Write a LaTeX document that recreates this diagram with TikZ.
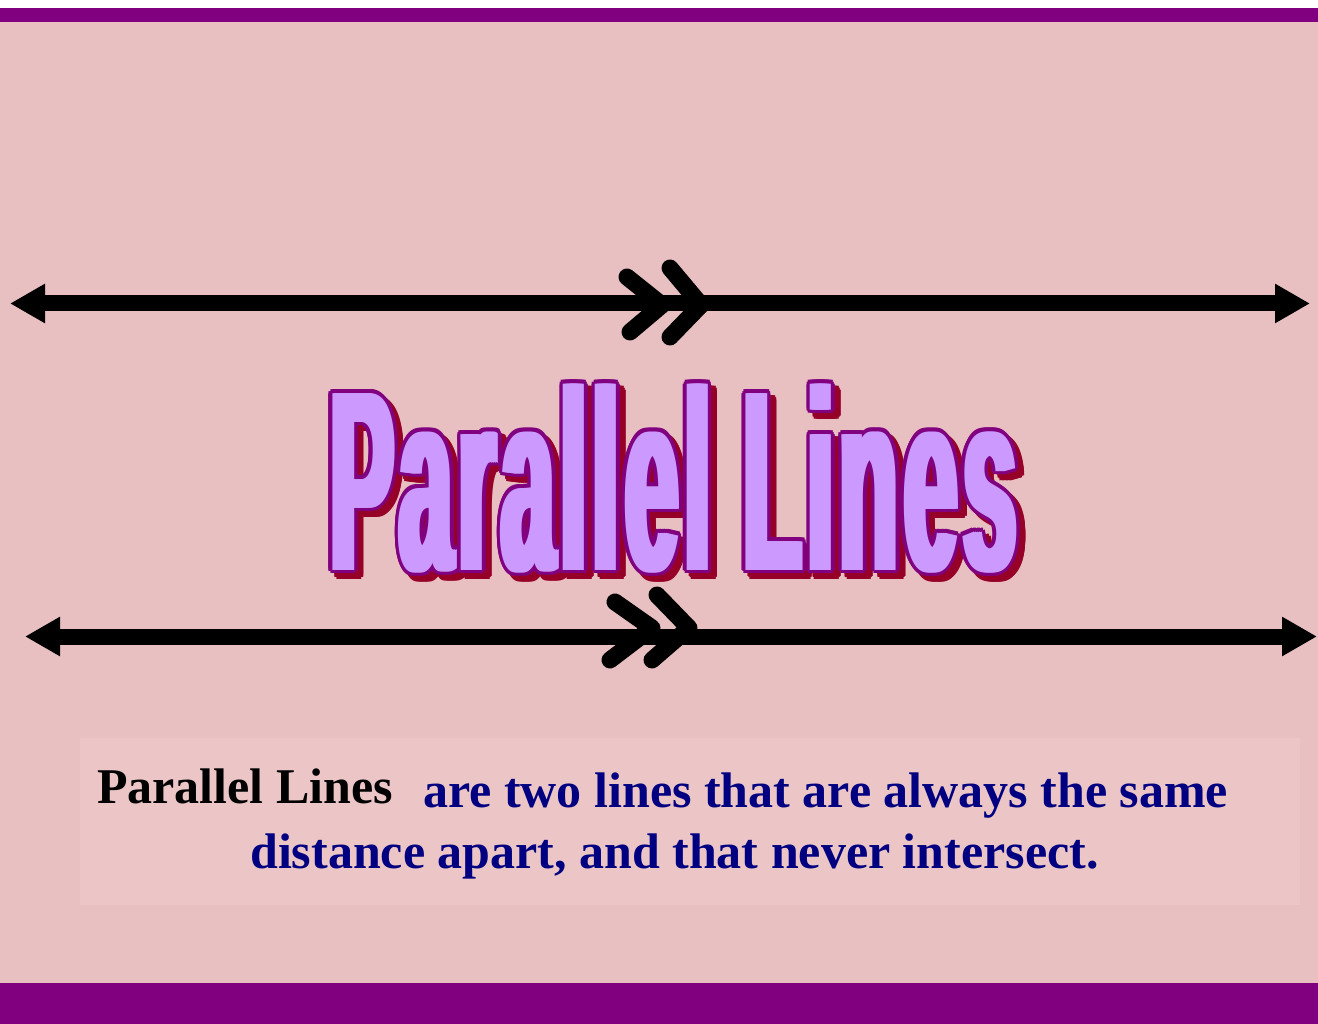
\documentclass[tikz,border=0pt]{standalone}
\usepackage{fontspec}
\setmainfont{Liberation Serif}
\newfontfamily\titlefont[LetterSpace=6]{Liberation Sans}
\usetikzlibrary{arrows.meta,calc}
\definecolor{bgpink}{RGB}{233,192,193}
\definecolor{panelpink}{RGB}{236,197,198}
\definecolor{barpurple}{RGB}{128,0,128}
\definecolor{lilac}{RGB}{204,153,255}
\definecolor{shadowred}{RGB}{150,0,40}
\definecolor{navytext}{RGB}{0,0,128}
\newcommand{\ttltext}{\resizebox{686pt}{186pt}{\titlefont\bfseries Parallel Lines}}
\tikzset{
  parline/.style={line width=16pt,
    {Triangle[length=35pt,width=37pt]}-{Triangle[length=35pt,width=37pt]}},
  chev/.style={line width=17pt, line cap=round, line join=round},
  titlelayer/.style={anchor=base west, inner sep=0pt, outer sep=0pt},
  bodytext/.style={anchor=base west, inner sep=0pt,
    font=\fontsize{50}{50}\selectfont\bfseries},
}
\begin{document}
\begin{tikzpicture}[x=1pt,y=-1pt]
\useasboundingbox (0,0) rectangle (1318,1024);
% background and bars
\fill[white] (0,0) rectangle (1318,8);
\fill[barpurple] (0,8) rectangle (1318,22);
\fill[bgpink] (0,22) rectangle (1318,983);
\fill[barpurple] (0,983) rectangle (1318,1024);
\fill[panelpink] (80,738) rectangle (1300,905);

% parallel lines
\coordinate (a1) at (10,303.5);
\coordinate (a2) at (1310,303.5);
\coordinate (b1) at (25,636.5);
\coordinate (b2) at (1317,636.5);
\draw[parline] (a1) -- (a2);
\draw[parline] (b1) -- (b2);

% chevrons (parallel marks)
\draw[chev] (627,277) -- (662,305) -- (630,332);
\draw[chev] (670,268) -- (701,305) -- (670,337);
\draw[chev] (615,602) -- (652,628) -- (610,660);
\draw[chev] (657,595) -- (689,628) -- (652,660);

% title
\coordinate (T) at (330,570);
\foreach \a in {0,30,...,330}{
  \foreach \d in {-4,0,4}{
    \node[titlelayer,text=shadowred,name=ts-\a-\d]
      at ($(T)+({\d+6+3.5*cos(\a)},{6+3.5*sin(\a)})$) {\ttltext};
  }
}
\foreach \a in {0,30,...,330}{
  \foreach \d in {-4,0,4}{
    \node[titlelayer,text=barpurple,name=to-\a-\d]
      at ($(T)+({\d+3.5*cos(\a)},{3.5*sin(\a)})$) {\ttltext};
  }
}
\foreach \d in {-4,-2,0,2,4}{
  \node[titlelayer,text=lilac,name=tf-\d] at ($(T)+(\d,0)$) {\ttltext};
}

% description
\node[bodytext,text=black] (def) at (97,803) {Parallel Lines};
\node[bodytext,text=navytext] (l1) at (423,807) {are two lines that are always the same};
\node[bodytext,text=navytext] (l2) at (250,868) {distance apart, and that never intersect.};
\end{tikzpicture}
\end{document}
